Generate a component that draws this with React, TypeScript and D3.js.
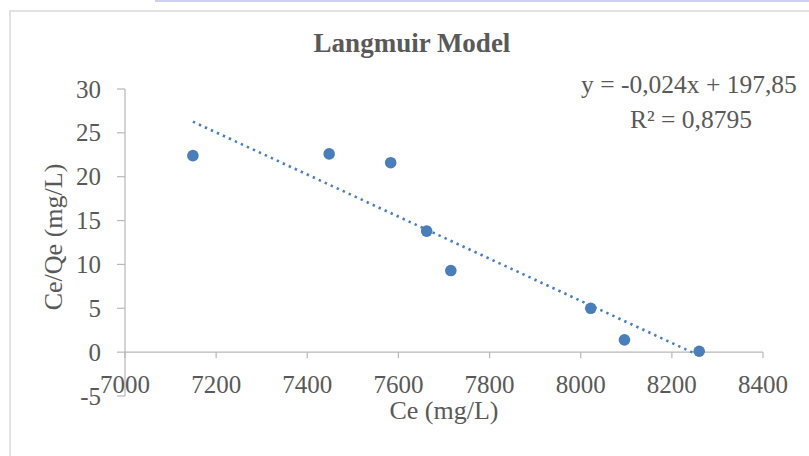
import React from "react";
import * as d3 from "d3";

const ceValues = [7149, 7448, 7583, 7662, 7715, 8022, 8096, 8260];
const ceQeValues = [22.4, 22.6, 21.6, 13.8, 9.3, 5.0, 1.4, 0.1];
const xTicks = [7000, 7200, 7400, 7600, 7800, 8000, 8200, 8400];
const yTicks = [-5, 0, 5, 10, 15, 20, 25, 30];
const slope = -0.024;
const intercept = 197.85;
const titleText = "Langmuir Model";
const xTitle = "Ce (mg/L)";
const yTitle = "Ce/Qe (mg/L)";
const eqText = "y = -0,024x + 197,85";
const r2Text = "R² = 0,8795";

const W = 809;
const H = 456;
const FONT = "'Liberation Serif', 'Times New Roman', serif";
const TEXT = "#595959";
const AXIS = "#b8b8b8";
const BLUE = "#4a7ebb";

export default function App() {
  const x = d3.scaleLinear().domain([7000, 8400]).range([125, 763]);
  const y = d3.scaleLinear().domain([-5, 30]).range([396, 89]);
  const y0 = y(0);
  const xMin = d3.min(ceValues) as number;
  const xMax = d3.max(ceValues) as number;
  const trend = d3
    .line<number>()
    .x((d) => x(d))
    .y((d) => y(slope * d + intercept));

  return (
    <svg
      width={W}
      height={H}
      style={{ position: "absolute", left: 0, top: 0, background: "#fff" }}
      fontFamily={FONT}
    >
      <rect x={0} y={0} width={W} height={H} fill="#fff" />
      <rect x={155} y={0} width={W - 155} height={2} fill="#d0d0f4" />
      <rect x={10} y={11} width={W + 10} height={H + 10} fill="#fff" stroke="#d9d9d9" strokeWidth={1.5} />

      <text x={412} y={52} textAnchor="middle" fontSize={27} fontWeight="bold" fill={TEXT}>
        {titleText}
      </text>

      {/* y axis */}
      <line x1={125} x2={125} y1={y(30)} y2={y(-5)} stroke={AXIS} strokeWidth={1.2} />
      {yTicks.map((t) => (
        <g key={"y" + t}>
          <line x1={117} x2={125} y1={y(t)} y2={y(t)} stroke={AXIS} strokeWidth={1.2} />
          <text x={101} y={y(t)} dy="0.34em" textAnchor="end" fontSize={25} fill={TEXT}>
            {t}
          </text>
        </g>
      ))}

      {/* x axis at y=0 */}
      <line x1={x(7000)} x2={x(8400)} y1={y0} y2={y0} stroke={AXIS} strokeWidth={1.2} />
      {xTicks.map((t) => (
        <g key={"x" + t}>
          <line x1={x(t)} x2={x(t)} y1={y0} y2={y0 + 6} stroke={AXIS} strokeWidth={1.2} />
          <text x={x(t)} y={393} textAnchor="middle" fontSize={25} fill={TEXT}>
            {t}
          </text>
        </g>
      ))}

      <text x={444} y={419} textAnchor="middle" fontSize={26} fill={TEXT}>
        {xTitle}
      </text>
      <text
        transform={`translate(62, 237) rotate(-90)`}
        textAnchor="middle"
        fontSize={26}
        fill={TEXT}
      >
        {yTitle}
      </text>

      <path
        d={trend([xMin, xMax]) || ""}
        fill="none"
        stroke={BLUE}
        strokeWidth={2.6}
        strokeDasharray="2.4,4.2"
      />

      {ceValues.map((v, i) => (
        <circle key={"p" + i} cx={x(v)} cy={y(ceQeValues[i])} r={5.8} fill={BLUE} />
      ))}

      <text x={689} y={93} textAnchor="middle" fontSize={25.5} fill={TEXT}>
        {eqText}
      </text>
      <text x={691} y={128} textAnchor="middle" fontSize={25.5} fill={TEXT}>
        {r2Text}
      </text>
    </svg>
  );
}
